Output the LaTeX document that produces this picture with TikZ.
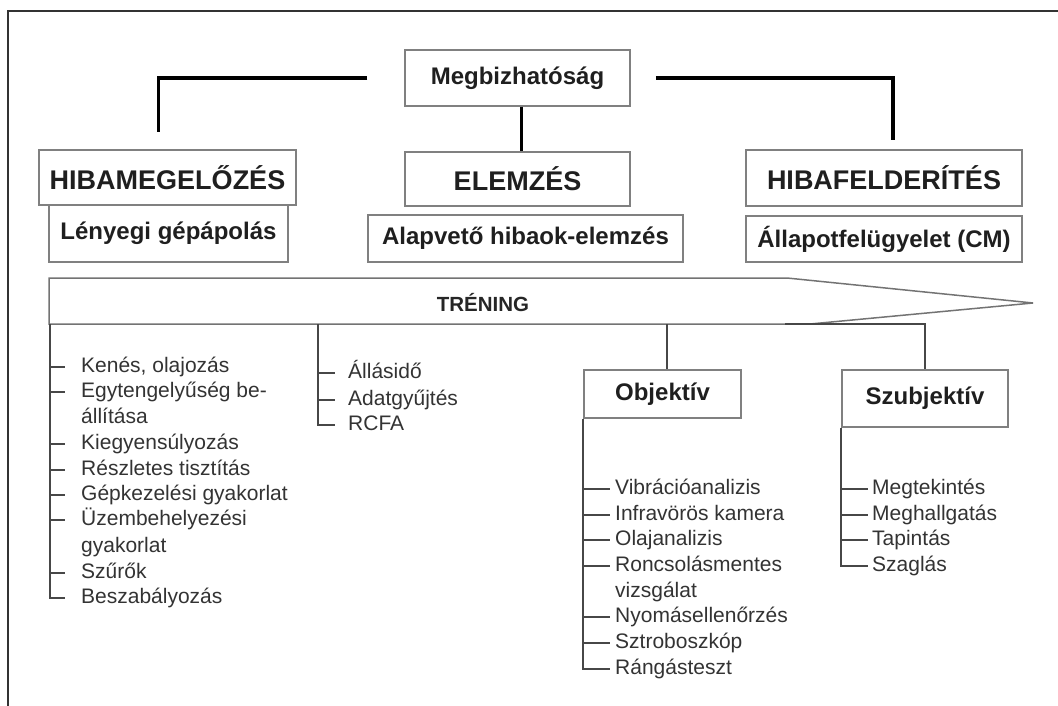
\documentclass[tikz,border=0pt]{standalone}
\usepackage{fontspec}
\setmainfont{Liberation Sans}
\usepackage{tikz}
\usetikzlibrary{calc}
\newcommand{\fsz}[2]{\fontsize{#1pt}{#2pt}\selectfont}

\begin{document}
\begin{tikzpicture}[
  x=1pt, y=-1pt,
  box/.style={draw=black!50, line width=1.5pt, inner sep=0pt, align=center, text=black!88, font=\bfseries\fsz{24}{29}},
  headbox/.style={box, font=\bfseries\fsz{27}{32}},
  listitem/.style={anchor=west, inner sep=0pt, text=black!80, font=\fsz{21}{25}, text height=15pt, text depth=4pt},
  bracket/.style={line width=3.5pt, black},
  stem/.style={line width=1.8pt, black!72},
  band/.style={draw=black!55, line width=1.5pt}
]
\useasboundingbox (0,0) rectangle (1058,706);
\draw[line width=2pt, black!80] (8,706) -- (8,11) -- (1058,11);

\node[box, minimum width=225pt, minimum height=56pt] (rel) at (517.5,78) {Megbizhatóság};
\node[headbox, minimum width=257pt, minimum height=55pt] (prev) at (167.5,177.5) {HIBAMEGELŐZÉS};
\node[box, minimum width=239pt, minimum height=57pt] (prevsub) at (168.5,233.5) {Lényegi gépápolás};
\node[headbox, minimum width=225pt, minimum height=54pt] (anal) at (517.5,179) {ELEMZÉS};
\node[box, minimum width=315pt, minimum height=47pt] (analsub) at (525.5,238.5) {Alapvető hibaok-elemzés};
\node[headbox, minimum width=276pt, minimum height=56pt] (det) at (884,178) {HIBAFELDERÍTÉS};
\node[box, minimum width=276pt, minimum height=46pt] (detsub) at (884,239) {Állapotfelügyelet (CM)};

\draw[bracket, shorten >=17pt] ([xshift=-37pt]rel.west) -| ([xshift=-9pt]prev.north);
\draw[bracket, shorten >=9pt] ([xshift=25pt]rel.east) -| ([xshift=9pt]det.north);
\draw[bracket] ([xshift=4pt]rel.south) -- ([xshift=4pt]rel.south |- anal.north);

\draw[band] (49,278) -- (787,278) -- (1033,303) -- (810,324) -- (49,324) -- cycle;
\node[inner sep=0pt, text=black!85, font=\bfseries\fsz{20.5}{24}] (trening) at (483,303) {TRÉNING};
\coordinate (lstem) at (50,324);
\coordinate (mstem) at (318,324);
\coordinate (ostem) at (667,324);
\coordinate (sstem) at (785,324);

\node[box, minimum width=157pt, minimum height=48pt] (obj) at (662.5,394) {Objektív};
\node[box, minimum width=166pt, minimum height=57pt] (subj) at (925,398.5) {Szubjektív};
\draw[stem] (ostem) -- (ostem |- obj.north);
\draw[stem] (sstem) -| (subj.north);

\node[listitem] (kenes) at (81,367) {Kenés, olajozás};
\node[listitem] (egyt) at (81,392) {Egytengelyűség be-};
\node[listitem] (egytb) at (81,418) {állítása};
\node[listitem] (kiegy) at (81,444) {Kiegyensúlyozás};
\node[listitem] (reszl) at (81,470) {Részletes tisztítás};
\node[listitem] (gepk) at (81,495) {Gépkezelési gyakorlat};
\node[listitem] (uzemb) at (81,520) {Üzembehelyezési};
\node[listitem] (uzembb) at (81,547) {gyakorlat};
\node[listitem] (szurok) at (81,573) {Szűrők};
\node[listitem] (beszab) at (81,598) {Beszabályozás};
\draw[stem] (lstem) |- ([xshift=-16pt]beszab.west);
\draw[stem] ([xshift=-31pt]kenes.west) -- ([xshift=-16pt]kenes.west);
\draw[stem] ([xshift=-31pt]egyt.west) -- ([xshift=-16pt]egyt.west);
\draw[stem] ([xshift=-31pt]kiegy.west) -- ([xshift=-16pt]kiegy.west);
\draw[stem] ([xshift=-31pt]reszl.west) -- ([xshift=-16pt]reszl.west);
\draw[stem] ([xshift=-31pt]gepk.west) -- ([xshift=-16pt]gepk.west);
\draw[stem] ([xshift=-31pt]uzemb.west) -- ([xshift=-16pt]uzemb.west);
\draw[stem] ([xshift=-31pt]szurok.west) -- ([xshift=-16pt]szurok.west);

\node[listitem] (allas) at (348,373) {Állásidő};
\node[listitem] (adat) at (348,400) {Adatgyűjtés};
\node[listitem] (rcfa) at (348,425) {RCFA};
\draw[stem] (mstem) |- ([xshift=-13pt]rcfa.west);
\draw[stem] ([xshift=-30pt]allas.west) -- ([xshift=-13pt]allas.west);
\draw[stem] ([xshift=-30pt]adat.west) -- ([xshift=-13pt]adat.west);

\node[listitem] (vibr) at (615,489) {Vibrációanalizis};
\node[listitem] (infra) at (615,515) {Infravörös kamera};
\node[listitem] (olaj) at (615,540) {Olajanalizis};
\node[listitem] (roncs) at (615,566) {Roncsolásmentes};
\node[listitem] (roncsb) at (615,592) {vizsgálat};
\node[listitem] (nyom) at (615,617) {Nyomásellenőrzés};
\node[listitem] (sztr) at (615,643) {Sztroboszkóp};
\node[listitem] (rang) at (615,669) {Rángásteszt};
\draw[stem] (obj.south west) |- ([xshift=-5pt]rang.west);
\draw[stem] ([xshift=-32pt]vibr.west) -- ([xshift=-5pt]vibr.west);
\draw[stem] ([xshift=-32pt]infra.west) -- ([xshift=-5pt]infra.west);
\draw[stem] ([xshift=-32pt]olaj.west) -- ([xshift=-5pt]olaj.west);
\draw[stem] ([xshift=-32pt]roncs.west) -- ([xshift=-5pt]roncs.west);
\draw[stem] ([xshift=-32pt]nyom.west) -- ([xshift=-5pt]nyom.west);
\draw[stem] ([xshift=-32pt]sztr.west) -- ([xshift=-5pt]sztr.west);

\node[listitem] (megt) at (872,489) {Megtekintés};
\node[listitem] (megh) at (872,515) {Meghallgatás};
\node[listitem] (tapi) at (872,540) {Tapintás};
\node[listitem] (szag) at (872,566) {Szaglás};
\draw[stem] (subj.south west) |- ([xshift=-4pt]szag.west);
\draw[stem] ([xshift=-30pt]megt.west) -- ([xshift=-4pt]megt.west);
\draw[stem] ([xshift=-30pt]megh.west) -- ([xshift=-4pt]megh.west);
\draw[stem] ([xshift=-30pt]tapi.west) -- ([xshift=-4pt]tapi.west);
\end{tikzpicture}
\end{document}
